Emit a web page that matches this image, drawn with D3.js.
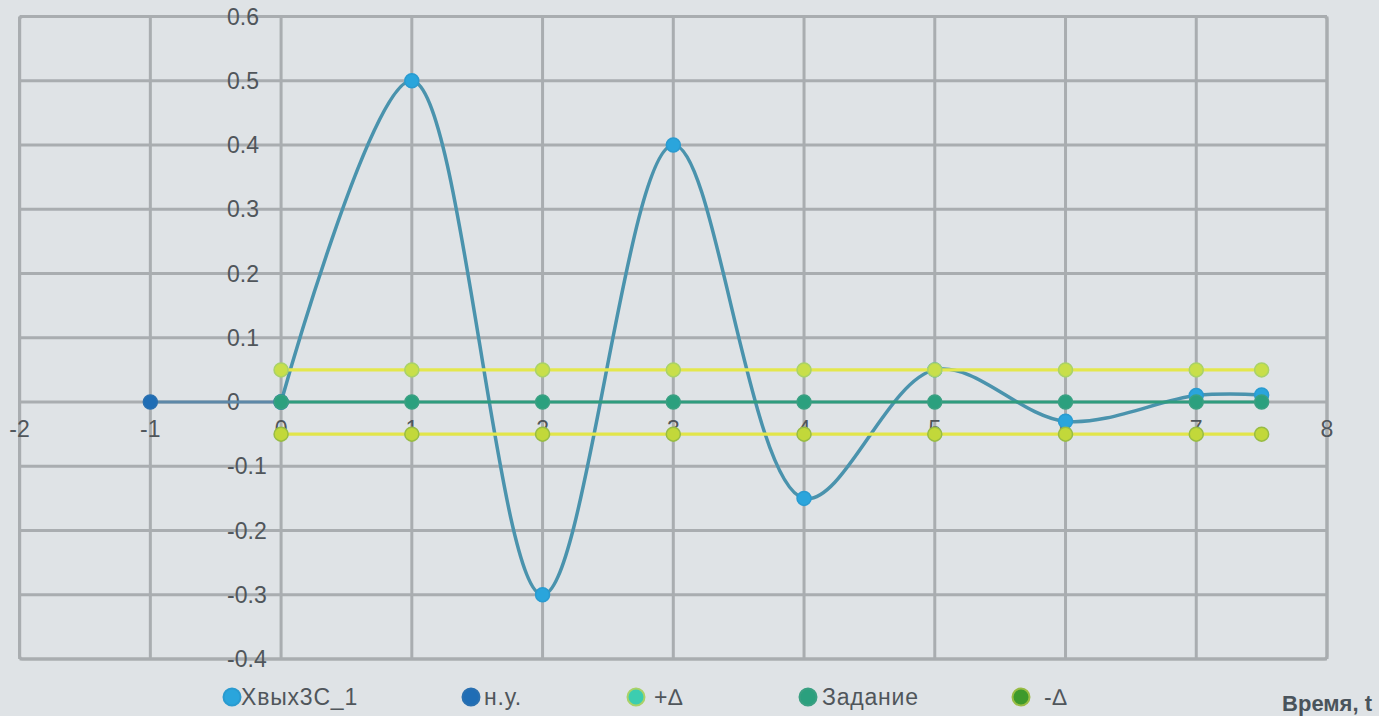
<!DOCTYPE html>
<html><head><meta charset="utf-8">
<script src="https://cdn.jsdelivr.net/npm/d3@7"></script>
<style>
html,body{margin:0;padding:0;background:#dfe3e6;}
svg{display:block;font-family:"Liberation Sans",Arial,sans-serif;}
</style></head>
<body>
<svg id="chart" width="1379" height="716"></svg>
<script>
// ---- data ----
const xTicks = [-2,-1,0,1,2,3,4,5,6,7,8];
const xTickLabels = ["-2","-1","0","1","2","3","4","5","6","7","8"];
const yTicks = [-0.4,-0.3,-0.2,-0.1,0,0.1,0.2,0.3,0.4,0.5,0.6];
const yTickLabels = ["-0.4","-0.3","-0.2","-0.1","0","0.1","0.2","0.3","0.4","0.5","0.6"];
const seriesNames = ["Xвых3С_1","н.у.","+∆","Задание","-∆"];
const outX = [0,1,2,3,4,5,6,7,7.5];
const outY = [0,0.5,-0.3,0.4,-0.15,0.05,-0.03,0.01,0.011];
const nuX = [-1,0];
const nuY = [0,0];
const bandX = [0,1,2,3,4,5,6,7,7.5];
const plusY = [0.05,0.05,0.05,0.05,0.05,0.05,0.05,0.05,0.05];
const setY = [0,0,0,0,0,0,0,0,0];
const minusY = [-0.05,-0.05,-0.05,-0.05,-0.05,-0.05,-0.05,-0.05,-0.05];
const xLabel = "Время, t";

// ---- layout ----
const svg = d3.select("#chart");
const x = d3.scaleLinear().domain([-2,8]).range([19.6,1327]);
const y = d3.scaleLinear().domain([-0.4,0.6]).range([659,16.5]);
const gridColor = "#a9adb0";
const textColor = "#50565b";

// grid
const g = svg.append("g");
g.selectAll("line.vx").data(xTicks).join("line")
  .attr("x1",d=>x(d)).attr("x2",d=>x(d)).attr("y1",y(0.6)).attr("y2",y(-0.4))
  .attr("stroke",gridColor).attr("stroke-width",3);
g.selectAll("line.hy").data(yTicks).join("line")
  .attr("y1",d=>y(d)).attr("y2",d=>y(d)).attr("x1",x(-2)).attr("x2",x(8))
  .attr("stroke",gridColor).attr("stroke-width",3);
g.append("rect").attr("x",x(-2)).attr("y",y(0.6)).attr("width",x(8)-x(-2)).attr("height",y(-0.4)-y(0.6))
  .attr("rx",3).attr("fill","none").attr("stroke",gridColor).attr("stroke-width",3);

// tick labels
g.selectAll("text.yl").data(yTicks).join("text")
  .attr("x",x(0)-54).attr("y",d=>y(d)+8)
  .attr("font-size",23).attr("fill",textColor)
  .text((d,i)=>yTickLabels[i]);
g.selectAll("text.xl").data(xTicks).join("text")
  .attr("x",d=>x(d)).attr("y",y(0)+35).attr("text-anchor","middle")
  .attr("font-size",23).attr("fill",textColor)
  .text((d,i)=>xTickLabels[i]);

const series = [
  {name:seriesNames[0], xs:outX, ys:outY, line:"#4a93ad", fill:"#2aa5dc", stroke:"#2a9bd0", curve:d3.curveCatmullRom.alpha(0.5), w:3.5},
  {name:seriesNames[1], xs:nuX, ys:nuY, line:"#5d88a8", fill:"#1f6db5", stroke:"#2a70b0", curve:d3.curveLinear, w:3.2},
  {name:seriesNames[2], xs:bandX, ys:plusY, line:"#e4e74c", fill:"#c8df4a", stroke:"#a9d268", curve:d3.curveLinear, legendFill:"#3ccdb0", w:3.2},
  {name:seriesNames[3], xs:bandX, ys:setY, line:"#2f9c7e", fill:"#2ba07e", stroke:"#3aa082", curve:d3.curveLinear, w:3.2},
  {name:seriesNames[4], xs:bandX, ys:minusY, line:"#e2e54a", fill:"#c2d83a", stroke:"#98bc44", curve:d3.curveLinear, legendFill:"#3e9a2c", w:3.2}
];

const lineGen = d3.line();
series.forEach(s=>{
  const pts = s.xs.map((v,i)=>[x(v),y(s.ys[i])]);
  svg.append("path").attr("d",lineGen.curve(s.curve)(pts))
    .attr("fill","none").attr("stroke",s.line).attr("stroke-width",s.w);
  svg.selectAll(null).data(pts).join("circle")
    .attr("cx",d=>d[0]).attr("cy",d=>d[1]).attr("r",7)
    .attr("fill",s.fill).attr("stroke",s.stroke).attr("stroke-width",1.5);
});

// legend
const legendMarkX = [232,471,636,808,1021];
const legendTextX = [241,484,654,822,1044];
series.forEach((s,i)=>{
  svg.append("circle").attr("cx",legendMarkX[i]).attr("cy",697).attr("r",8.5)
    .attr("fill",s.legendFill||s.fill).attr("stroke",s.stroke).attr("stroke-width",2);
  svg.append("text").attr("x",legendTextX[i]).attr("y",705)
    .attr("font-size",23).attr("letter-spacing",0.8).attr("fill",textColor).text(s.name);
});
svg.append("text").attr("x",1372).attr("y",711).attr("text-anchor","end")
  .attr("font-size",22).attr("font-weight","bold").attr("fill","#4a545c").text(xLabel);
</script>
</body></html>
